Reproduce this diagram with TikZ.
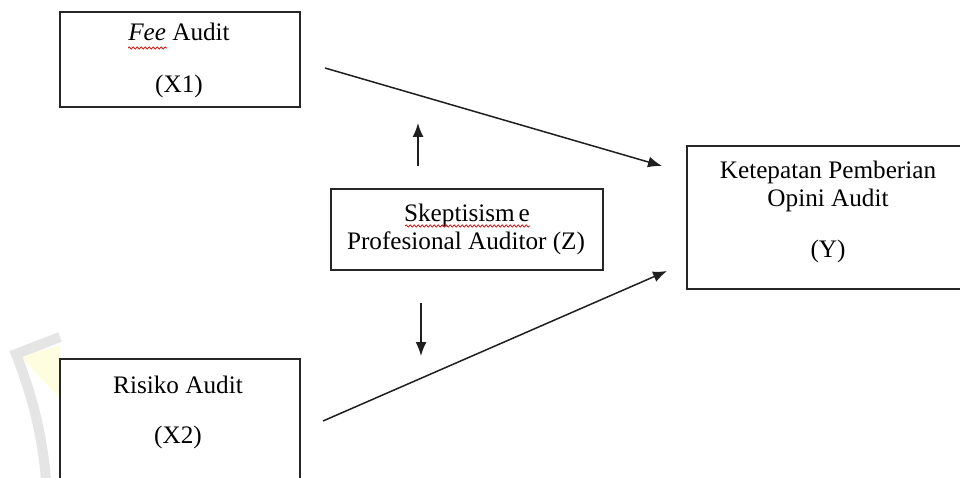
\documentclass[tikz,border=0pt]{standalone}
\usepackage{fontspec}
\setmainfont{Liberation Serif}
\usetikzlibrary{arrows.meta,decorations.pathmorphing}
\begin{document}
\begin{tikzpicture}[x=1pt,y=-1pt,
  box/.style={draw=black!85, line width=2pt, inner sep=0pt},
  lbl/.style={anchor=base, inner sep=0pt, font=\fontsize{25.2}{30}\selectfont},
  conn/.style={draw=black!88, line width=1.5pt, -{Latex[length=14pt,width=11pt]}},
  wavy/.style={draw=red!85!black, line width=0.7pt, decorate,
    decoration={snake, amplitude=1.1pt, segment length=4pt}},
  mark1/.style={draw=gray!20, line width=10pt, line cap=butt}]
\useasboundingbox (0,0) rectangle (960,478);
\clip (0,0) rectangle (960,478);
\fill[white] (0,0) rectangle (960,478);
% faint watermark fragment
\fill[yellow!12] (20,356) -- (60,346) -- (60,398) -- cycle;
\draw[mark1] (60,337) -- (16,354) .. controls (30,390) and (42,430) .. (46,480);
% boxes
\node[box, minimum width=240pt, minimum height=95pt] (fee) at (180,59.5) {};
\node[box, minimum width=240pt, minimum height=136pt] (risk) at (180,427) {};
\node[box, minimum width=272pt, minimum height=81pt] (skep) at (467,229.5) {};
\node[box, minimum width=278pt, minimum height=143pt] (ket) at (826,217.5) {};
% labels
\node[lbl] (fee1) at (179,41) {\textit{Fee} Audit};
\node[lbl] (fee2) at (179,93) {(X1)};
\node[lbl] (risk1) at (178,393) {Risiko Audit};
\node[lbl] (risk2) at (178,443) {(X2)};
\node[lbl] (skep1) at (467,222) {Skeptisism\kern4pt e};
\node[lbl] (skep2) at (466,250) {Profesional Auditor (Z)};
\node[lbl] (ket1) at (828,179) {Ketepatan Pemberian};
\node[lbl] (ket2) at (828,207) {Opini Audit};
\node[lbl] (ket3) at (828,258) {(Y)};
% spell-check underlines
\draw[wavy] (128,48) -- (167,48);
\draw[wavy] (405,226) -- (530,226);
% connector ends
\coordinate (a1s) at (325,68);
\coordinate (a1e) at (662,166);
\coordinate (a2s) at (323,421);
\coordinate (a2e) at (667,271);
\coordinate (ups) at (418,166);
\coordinate (upe) at (418,123);
\coordinate (dns) at (421,303);
\coordinate (dne) at (421,356);
% connectors
\draw[conn] (a1s) -- (a1e);
\draw[conn] (a2s) -- (a2e);
\draw[conn] (ups) -- (upe);
\draw[conn] (dns) -- (dne);
\end{tikzpicture}
\end{document}
